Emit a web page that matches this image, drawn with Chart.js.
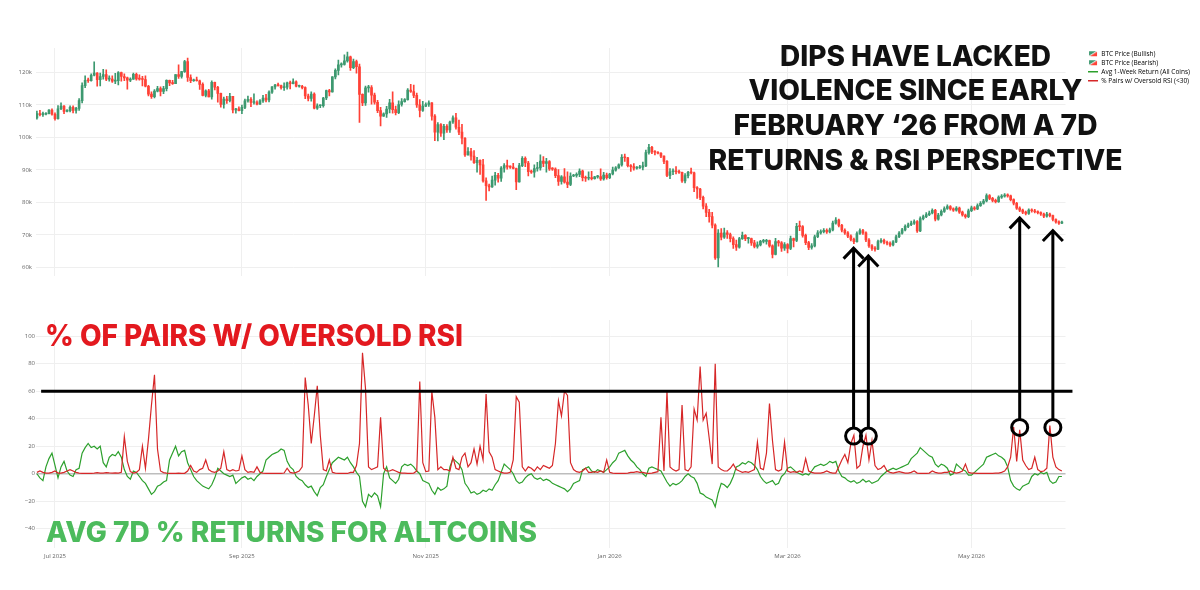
<!DOCTYPE html>
<html lang="en">
<head>
<meta charset="UTF-8">
<title>Dips have lacked violence</title>
<script src="https://cdn.jsdelivr.net/npm/chart.js"></script>
<style>
  html, body { margin: 0; padding: 0; background: #fff; }
  #wrap { position: relative; width: 1200px; height: 590px; overflow: hidden; }
  #chart { position: absolute; left: 0; top: 0; }
  #notes { position: absolute; left: 0; top: 0; pointer-events: none; }
  #notes text { font-family: Inter, 'Open Sans', sans-serif; font-weight: 800; }
</style>
</head>
<body>
<div id="wrap">
  <canvas id="chart" width="1200" height="590"></canvas>
  <svg id="notes" width="1200" height="590">
    <g fill="#111" font-size="28.5" text-anchor="middle">
      <text x="915.5" y="66" textLength="271" lengthAdjust="spacingAndGlyphs">DIPS HAVE LACKED</text>
      <text x="915.5" y="100" textLength="334" lengthAdjust="spacingAndGlyphs">VIOLENCE SINCE EARLY</text>
      <text x="915.5" y="135" textLength="364" lengthAdjust="spacingAndGlyphs">FEBRUARY ‘26 FROM A 7D</text>
      <text x="915.5" y="169.5" textLength="414" lengthAdjust="spacingAndGlyphs">RETURNS &amp; RSI PERSPECTIVE</text>
    </g>
    <text x="45" y="345.5" fill="#e3191f" font-size="29.5" textLength="418" lengthAdjust="spacingAndGlyphs">% OF PAIRS W/ OVERSOLD RSI</text>
    <text x="46" y="541.5" fill="#4cbb5c" font-size="28" textLength="491" lengthAdjust="spacingAndGlyphs">AVG 7D % RETURNS FOR ALTCOINS</text>
  </svg>
</div>
<script>
// daily BTC candles (thousands of USD), first day 2025-06-25; open = previous close
const startDate = '2025-06-25';
const firstOpen = 106.0;
const close = [
  107.3,107.0,107.1,107.3,108.4,107.1,105.7,108.8,109.6,108.0,
  108.2,109.2,108.3,108.9,111.3,115.9,117.5,117.4,119.1,119.8,
  117.7,118.7,119.3,117.9,117.9,117.3,117.4,119.9,118.7,118.3,
  117.6,117.9,119.4,118.0,117.9,117.8,115.7,113.3,112.5,114.2,
  115.0,114.1,115.0,117.5,116.7,116.5,119.3,118.7,120.2,123.3,
  118.4,117.4,117.5,117.4,116.3,112.9,114.3,112.4,116.9,115.4,
  113.5,110.1,111.8,111.3,112.6,108.4,108.8,108.2,109.2,111.2,
  111.7,110.7,110.7,110.2,111.2,112.1,111.5,113.9,115.5,116.1,
  115.9,115.3,115.4,116.8,116.5,117.1,115.7,115.7,115.3,112.7,
  112.0,113.3,109.0,109.7,109.7,112.1,114.4,114.0,118.6,120.6,
  122.3,122.4,123.5,124.8,121.4,123.3,121.7,113.2,110.6,115.2,
  115.3,113.0,110.8,108.2,106.5,107.2,108.7,110.6,108.5,107.6,
  110.1,111.0,111.6,114.5,114.1,112.9,110.0,108.3,109.6,110.1,
  110.6,106.5,101.6,103.9,101.3,103.4,102.3,104.7,106.0,103.1,
  101.6,99.7,94.6,95.6,94.2,92.2,92.9,91.5,86.6,85.1,
  84.7,86.8,88.3,87.4,90.5,91.3,90.9,90.8,90.4,86.3,
  91.3,93.5,92.1,89.4,89.3,90.4,90.6,92.7,92.0,92.5,
  90.3,90.2,88.2,86.4,87.8,86.2,85.5,88.1,88.3,88.6,
  89.6,87.6,87.4,87.6,87.3,87.8,87.9,87.2,88.4,87.6,
  88.7,89.9,90.6,91.5,93.8,93.7,91.3,91.0,90.5,90.6,
  90.8,91.2,95.3,96.9,95.5,95.4,95.1,94.2,92.6,88.3,
  89.4,89.5,89.4,89.2,86.6,88.2,89.2,89.1,84.5,84.1,
  81.5,78.8,76.9,75.6,73.0,62.9,70.5,69.3,70.6,70.1,
  68.8,67.0,66.2,68.8,69.8,68.8,68.8,67.5,66.4,66.9,
  68.0,68.0,68.2,66.6,64.0,67.9,67.5,65.9,67.0,65.8,
  68.8,68.3,72.6,72.5,69.8,67.6,66.1,66.6,69.4,70.6,
  71.0,71.4,70.9,71.5,73.6,74.5,72.9,71.4,70.6,69.6,
  68.6,67.9,70.4,71.3,70.6,68.4,66.6,65.8,65.6,67.9,
  68.3,67.7,67.4,66.9,67.8,69.4,70.5,71.5,72.6,73.1,
  73.6,74.1,71.2,75.0,75.6,76.2,76.7,77.5,74.8,76.1,
  77.2,78.1,78.7,78.0,77.6,78.2,77.0,76.1,75.6,77.4,
  78.3,78.0,79.0,79.7,80.4,82.1,81.2,80.6,80.2,81.6,
  81.9,82.2,82.0,80.8,79.7,78.2,77.6,77.0,76.6,77.6,
  77.4,77.1,76.8,76.4,75.7,76.4,75.9,74.7,74.0,73.6,73.8
];
const high = [
  108.1,108.3,107.8,107.6,108.5,108.8,107.5,109.8,110.6,109.8,
  108.5,109.7,109.7,109.2,111.9,116.8,118.9,118.2,119.5,123.2,
  119.9,119.8,120.9,120.8,118.9,118.9,119.7,120.2,120.1,119.5,
  118.5,118.3,119.8,119.8,119.2,118.8,118.9,116.0,114.0,114.7,
  115.7,115.5,115.7,117.7,117.6,117.5,119.3,122.3,120.3,123.7,
  124.4,119.2,117.9,118.5,117.6,116.8,114.6,114.8,117.4,117.0,
  115.7,113.6,112.4,112.6,113.5,112.6,108.9,109.4,109.9,111.8,
  112.7,112.2,113.4,111.2,111.6,112.9,113.2,114.3,115.6,116.3,
  116.7,116.1,116.8,117.0,117.3,118.0,117.4,116.1,116.0,115.5,
  113.3,114.0,113.7,110.3,110.0,112.3,114.5,114.8,118.7,121.1,
  123.8,122.9,125.4,126.2,125.0,124.1,123.8,122.5,113.4,115.8,
  116.0,115.9,113.6,111.4,109.2,107.5,109.5,111.7,114.0,109.6,
  111.2,111.9,111.9,115.0,116.3,116.1,113.6,111.6,111.1,110.6,
  111.2,110.7,107.0,104.5,104.2,104.0,103.9,105.0,106.6,107.4,
  105.3,104.0,99.9,96.8,96.6,95.9,93.8,93.1,93.2,87.5,
  85.6,88.1,89.2,88.9,91.0,91.9,93.0,91.2,92.0,90.5,
  92.0,94.1,94.0,92.6,89.9,91.5,92.3,94.6,94.1,93.5,
  92.8,90.7,90.6,90.1,88.2,90.4,89.4,89.1,88.6,89.1,
  90.3,89.9,88.1,89.4,89.5,88.0,88.3,90.3,89.2,89.0,
  88.9,90.8,91.0,91.8,94.7,94.8,93.8,91.6,91.9,91.0,
  91.4,92.4,96.1,97.8,97.2,95.9,95.6,95.3,94.3,92.8,
  90.4,90.3,91.0,89.9,89.3,88.8,89.5,90.5,89.3,84.8,
  84.3,81.9,79.6,77.8,76.9,73.4,71.6,71.9,72.1,71.3,
  70.5,69.4,68.4,69.2,70.8,70.1,69.2,69.0,68.3,67.8,
  68.3,68.6,68.6,68.4,66.9,68.9,68.3,67.9,67.6,67.3,
  69.6,69.0,73.5,74.2,72.8,70.2,68.0,67.3,69.9,71.3,
  71.5,71.9,71.8,72.1,74.2,75.3,74.8,73.2,71.8,71.0,
  70.0,69.0,70.9,71.8,71.7,70.9,68.8,67.0,66.4,68.4,
  68.8,68.7,68.1,67.8,68.2,69.9,71.0,72.0,73.1,73.6,
  74.2,74.6,74.4,75.5,76.1,76.8,77.3,78.0,77.8,76.6,
  77.7,78.6,79.2,79.0,78.3,78.7,78.5,77.3,76.4,77.9,
  78.8,78.7,79.5,80.2,80.9,82.6,82.4,81.5,81.0,82.0,
  82.4,82.7,82.6,82.2,81.1,80.0,78.6,77.9,77.3,78.0,
  78.0,77.8,77.4,77.1,76.7,76.9,76.7,76.1,74.9,74.3,74.2
];
const low = [
  105.6,106.6,106.4,106.9,107.2,106.8,105.3,105.6,108.5,107.3,
  107.8,107.8,107.5,107.4,108.3,110.6,115.3,116.9,117.3,118.9,
  115.7,115.8,117.9,117.4,117.3,116.9,116.5,116.1,117.3,117.4,
  114.8,117.1,117.8,117.6,117.6,115.8,115.5,112.7,112.0,112.1,
  114.0,112.7,113.4,114.3,115.9,116.3,116.5,118.1,118.2,120.0,
  117.2,116.8,117.2,117.3,114.7,112.7,112.4,112.4,111.7,114.6,
  110.8,109.3,109.0,110.4,110.9,107.5,107.4,108.1,107.3,108.8,
  110.8,109.4,110.2,110.0,110.1,110.7,110.9,110.9,113.5,114.8,
  115.7,114.8,114.4,114.8,114.9,116.4,115.5,115.4,114.9,111.9,
  111.2,111.1,108.7,108.6,109.1,109.3,111.6,112.7,113.9,118.0,
  119.2,121.6,122.2,123.1,120.6,121.1,119.7,104.6,109.7,109.8,
  113.9,110.2,110.2,107.6,103.5,106.4,106.1,107.5,107.4,106.9,
  107.3,109.6,110.8,111.4,113.8,112.2,109.2,106.3,108.0,109.4,
  109.5,105.3,99.0,98.9,100.3,99.3,101.5,101.5,104.3,102.5,
  100.8,98.0,94.1,94.5,93.0,92.0,89.3,88.6,86.2,80.6,
  83.5,84.6,85.3,86.2,86.4,89.3,90.2,90.4,90.3,83.9,
  86.2,91.0,91.0,88.1,88.9,87.7,89.6,89.9,91.0,89.3,
  89.8,89.8,87.6,85.2,85.6,85.9,84.5,85.1,87.9,87.7,
  87.9,86.6,86.4,86.9,86.9,87.1,87.4,86.7,86.8,87.1,
  87.3,88.4,89.6,90.4,91.1,92.6,90.9,89.5,89.9,90.2,
  90.4,90.0,91.0,94.8,95.0,94.6,94.9,93.7,91.9,87.9,
  87.3,88.5,88.7,88.9,86.1,86.0,87.5,88.7,83.3,81.2,
  80.8,78.0,75.6,73.9,72.1,62.4,60.1,68.4,68.9,68.9,
  67.8,65.8,65.2,65.9,68.6,68.2,67.4,66.7,66.0,65.9,
  66.6,67.5,67.1,66.2,62.9,63.8,66.5,64.9,65.2,64.4,
  65.4,66.3,67.9,71.3,69.3,67.0,65.4,65.6,66.3,69.1,
  70.2,70.6,70.4,70.6,71.2,73.3,72.4,70.9,70.1,69.1,
  68.1,67.3,67.7,70.1,70.1,67.9,66.1,65.2,65.0,65.4,
  67.5,67.2,66.9,66.4,66.6,67.6,69.1,70.2,71.2,72.2,
  72.8,73.2,70.7,71.0,74.6,75.3,75.9,76.4,74.3,74.5,
  75.8,76.9,77.8,77.6,77.2,77.3,76.6,75.7,75.1,75.3,
  77.1,77.6,77.7,78.7,79.4,80.1,80.8,80.1,79.8,80.0,
  81.2,81.6,81.6,80.4,79.2,77.8,77.1,76.5,76.1,76.3,
  77.0,76.7,76.4,76.0,75.3,75.4,75.5,74.3,73.6,73.2,73.4
];
// avg 1-week return of all coins (%), same days
const avgReturn = [
  0,-3,-5,5,11,15,6,-3,5,9,
  2,-1,-2,3,4,15,19,22,19,20,
  18,20,8,5,12,14,13,16,12,3,
  -2,-4,2,1,-2,-5,-7,-11,-15,-13,
  -9,-8,-6,-5,10,15,20,13,16,17,
  8,3,-2,-5,-7,-9,-10,-11,-8,-3,
  4,2,0,-1,-2,-1,-7,-5,-3,-2,
  -4,-3,-5,-2,0,2,10,12,14,15,
  16,18,17,9,5,3,-2,-4,-5,-8,
  -10,-9,-13,-16,-10,-8,-2,3,8,10,
  12,11,10,12,8,5,1,-2,-20,-24,
  -15,-17,-14,-16,-24,0,5,-3,-5,-7,
  -4,5,7,6,7,5,2,0,-5,-6,
  -7,-12,-15,-10,-12,-11,-9,5,11,9,
  7,3,-7,-10,-14,-13,-15,-14,-12,-13,
  -11,-12,-8,-5,1,7,5,3,0,-5,
  -7,-6,-3,-1,0,-3,-4,-3,-5,-4,
  -5,-7,-8,-9,-10,-11,-13,-11,-7,-6,
  -5,3,4,5,2,1,3,2,1,3,
  5,8,10,15,16,17,13,10,8,5,
  3,0,-2,4,5,4,3,2,-2,-6,
  -9,-7,-8,-7,-5,-2,0,-2,-3,-7,
  -14,-15,-17,-18,-19,-24,-14,-7,-8,-10,
  -7,-2,5,6,8,7,9,8,6,3,
  -2,-5,-7,-6,-5,-8,-7,-2,0,4,
  5,3,1,0,-1,0,-1,2,5,6,
  7,6,7,9,8,9,2,-2,-3,-5,
  -6,-5,-7,-6,-4,-6,-5,-7,-6,-5,
  -2,0,2,3,4,3,4,5,6,7,
  11,13,15,19,17,15,13,12,7,5,
  7,6,4,-1,0,7,5,3,2,-1,
  -1,1,3,5,7,12,13,14,15,13,
  12,10,5,-5,-9,-11,-12,-9,-8,-7,
  -2,0,-1,1,0,1,-5,-7,-6,-2,-2
];
// % of pairs with RSI < 30, same days
const oversold = [
  1,2,1,0.5,0.5,1,2,0.5,0.5,1,
  2,3,2,1,0.5,0.3,0.3,0.3,0.3,0.5,
  0.8,0.5,0.5,0.8,0.6,0.5,0.6,0.4,1,27,
  9,1.5,0.5,1,3,20,4,25,50,72,
  18,2,0.8,0.5,0.3,0.3,0.2,0.5,0.3,0.3,
  2,6,2,1,3,4,10,3,1.5,1,
  2,4,16,3,2,3,2,2.5,13,3,
  1,1.5,1,5,1,0.5,0.3,0.2,0.2,0.2,
  0.2,0.3,0.5,4,1,0.5,1,2,5,70,
  50,22,42,64,28,3,2,10,1,0.5,
  0.3,0.3,0.2,0.2,1,1,6,22,88,62,
  5,3,4,5,41,4,2,2,3,2,
  1,0.5,0.5,0.3,0.3,0.5,2,67,8,1.5,
  2,60,41,3,5,3,3,2,12,4,
  3,12,15,5,8,18,7,20,10,58,
  16,12,3,2,1,0.5,0.5,1,10,56,
  52,5,2,5,4,2,5,3,6,5,
  4,6,22,53,42,60,57,8,3,1.5,
  1,2,4,1,1,1.5,1,2,1,10,
  1,0.5,0.3,0.2,0.2,0.3,0.5,1,1,1.5,
  1,1,0.5,0.3,0.5,1,1.5,41,2,60,
  5,3,2,3,50,3,2,5,47,39,
  78,39,44,26,7,80,5,3,2,2,
  4,7,3,2,1,1.5,1,2,3,23,
  4,3,15,51,24,3,2,3,23,2,
  1,1.5,1,2,1,11,2,1,0.5,0.5,
  0.5,1,2,1,0.5,0.5,5,10,14,8,
  22,28,4,6,20,28,10,24,6,3,
  4,6,2,1,0.5,1,1.5,1,0.5,0.5,
  1,2,0.5,0.3,0.2,0.3,0.5,2,1,0.5,
  0.5,1,1,2,1,0.5,1,2,7,1,
  0.5,0.5,0.3,0.2,0.2,0.2,0.3,0.3,0.5,0.5,
  1,2,5,12,34,9,32,10,6,3,
  4,12,3,1.5,2,4,35,12,5,3,2
];
const priceTicks = [60, 70, 80, 90, 100, 110, 120];
const pctTicks = [-40, -20, 0, 20, 40, 60, 80, 100];
const monthLabels = ['Jul 2025', 'Sep 2025', 'Nov 2025', 'Jan 2026', 'Mar 2026', 'May 2026'];
const monthDates = ['2025-07-01', '2025-09-01', '2025-11-01', '2026-01-01', '2026-03-01', '2026-05-01'];

// annotation anchors (day index, price in k, oversold %)
const threshold = 60;
const thresholdFrom = 1.4, thresholdTo = 343.5;
const arrowDays = [270.9, 275.8, 326, 337];
const arrowTips = [65.9, 63.5, 75.2, 71.3];
const circleAt = [27.4, 27.4, 33.7, 33.7];

const UP = '#3d9970', DOWN = '#ff4136', GREEN = '#2ca02c', RED = '#d62728';
const GRID = '#efefef';

const dayOf = s => (Date.parse(s) - Date.parse(startDate)) / 864e5;
const monthDays = monthDates.map(dayOf);

const open = close.map((c, i) => i ? close[i - 1] : firstOpen);
const up = [], down = [];
close.forEach((c, i) => (c >= open[i] ? up : down).push(i));
const body = idx => idx.map(i => ({x: i, y: [open[i], close[i]]}));
const wick = idx => idx.map(i => ({x: i, y: [low[i], high[i]]}));
const series = arr => arr.map((v, i) => ({x: i, y: v}));

// small candle icon for the legend
const candleIcon = document.createElement('canvas');
candleIcon.width = 10; candleIcon.height = 7;
(function () {
  const c = candleIcon.getContext('2d');
  c.fillStyle = DOWN; c.fillRect(1, 1, 8, 5);
  c.fillStyle = UP;
  c.beginPath(); c.moveTo(1, 1); c.lineTo(9, 1); c.lineTo(1, 6); c.closePath(); c.fill();
  c.strokeStyle = '#fff'; c.lineWidth = 1;
  c.beginPath(); c.moveTo(1, 6); c.lineTo(9, 1); c.stroke();
})();

// blank the space between the two panels so the month lines stop there
const panelGap = {
  id: 'panelGap',
  beforeDatasetsDraw(chart) {
    const {ctx, chartArea, scales: {y, y2}} = chart;
    ctx.save();
    ctx.fillStyle = '#fff';
    ctx.fillRect(chartArea.left - 1, y.bottom + 1, chartArea.width + 2, y2.top - y.bottom - 2);
    ctx.restore();
  }
};

const annotate = {
  id: 'annotate',
  afterDatasetsDraw(chart) {
    const {ctx, scales: {x, y, y2}} = chart;
    ctx.save();
    ctx.strokeStyle = '#000';
    ctx.lineWidth = 3;
    ctx.beginPath();
    ctx.moveTo(x.getPixelForValue(thresholdFrom), y2.getPixelForValue(threshold));
    ctx.lineTo(x.getPixelForValue(thresholdTo), y2.getPixelForValue(threshold));
    ctx.stroke();
    const r = 8;
    arrowDays.forEach((d, i) => {
      const px = x.getPixelForValue(d);
      const tip = y.getPixelForValue(arrowTips[i]);
      const cy = y2.getPixelForValue(circleAt[i]);
      ctx.beginPath();
      ctx.moveTo(px, cy - r);
      ctx.lineTo(px, tip);
      ctx.moveTo(px - 10, tip + 10.5);
      ctx.lineTo(px, tip);
      ctx.lineTo(px + 10, tip + 10.5);
      ctx.stroke();
      ctx.beginPath();
      ctx.arc(px, cy, r, 0, Math.PI * 2);
      ctx.stroke();
    });
    ctx.restore();
  }
};

Chart.defaults.font.family = "'Open Sans', sans-serif";
Chart.defaults.color = '#666';

const hidden = {display: false};
new Chart(document.getElementById('chart'), {
  type: 'line',
  data: {
    datasets: [
      {type: 'line', label: '% Pairs w/ Oversold RSI (<30)', data: series(oversold), yAxisID: 'y2',
       borderColor: RED, borderWidth: 1.2, pointRadius: 0, order: 0},
      {type: 'line', label: 'Avg 1-Week Return (All Coins)', data: series(avgReturn), yAxisID: 'y2',
       borderColor: GREEN, borderWidth: 1.2, pointRadius: 0, order: 1},
      {type: 'bar', label: 'BTC Price (Bullish)', data: body(up), yAxisID: 'y',
       backgroundColor: UP, barThickness: 2, minBarLength: 1, grouped: false, order: 2},
      {type: 'bar', label: 'BTC Price (Bearish)', data: body(down), yAxisID: 'y',
       backgroundColor: DOWN, barThickness: 2, minBarLength: 1, grouped: false, order: 2},
      {type: 'bar', label: 'bull wick', data: wick(up), yAxisID: 'y',
       backgroundColor: UP, barThickness: 1, grouped: false, order: 3},
      {type: 'bar', label: 'bear wick', data: wick(down), yAxisID: 'y',
       backgroundColor: DOWN, barThickness: 1, grouped: false, order: 3}
    ]
  },
  options: {
    responsive: false,
    animation: false,
    layout: {padding: {top: 48, left: 0, right: 0, bottom: 28}},
    plugins: {
      tooltip: {enabled: false},
      legend: {
        position: 'right',
        align: 'start',
        onClick: () => {},
        labels: {
          usePointStyle: true,
          pointStyleWidth: 10,
          boxHeight: 6,
          padding: 2.5,
          color: '#444',
          font: {size: 6.5, lineHeight: 1},
          generateLabels: () => [
            {text: 'BTC Price (Bullish)', pointStyle: candleIcon, fillStyle: UP, strokeStyle: UP, lineWidth: 0, hidden: false},
            {text: 'BTC Price (Bearish)', pointStyle: candleIcon, fillStyle: DOWN, strokeStyle: DOWN, lineWidth: 0, hidden: false},
            {text: 'Avg 1-Week Return (All Coins)', pointStyle: 'line', fillStyle: GREEN, strokeStyle: GREEN, lineWidth: 1.5, hidden: false},
            {text: '% Pairs w/ Oversold RSI (<30)', pointStyle: 'line', fillStyle: RED, strokeStyle: RED, lineWidth: 1.5, hidden: false}
          ]
        }
      }
    },
    scales: {
      x: {
        type: 'linear',
        min: -0.3,
        max: 341.2,
        offset: false,
        afterBuildTicks: s => { s.ticks = monthDays.map(v => ({value: v})); },
        afterFit: s => { s.height = 14; },
        ticks: {callback: (v, i) => monthLabels[i], autoSkip: false, maxRotation: 0, padding: 5, font: {size: 6}},
        grid: {color: GRID, drawTicks: false, offset: false},
        border: hidden
      },
      y: {
        type: 'linear',
        position: 'left',
        stack: 'panels',
        stackWeight: 227,
        weight: 3,
        min: 57.63,
        max: 127.48,
        afterBuildTicks: s => { s.ticks = priceTicks.map(v => ({value: v})); },
        afterFit: s => { s.width = 36; },
        ticks: {callback: v => v + 'k', padding: 4, font: {size: 6}},
        grid: {color: GRID, drawTicks: false},
        border: hidden
      },
      gap: {
        type: 'linear',
        position: 'left',
        stack: 'panels',
        stackWeight: 46,
        weight: 2,
        ticks: hidden,
        grid: hidden,
        border: hidden
      },
      y2: {
        type: 'linear',
        position: 'left',
        stack: 'panels',
        stackWeight: 227,
        weight: 1,
        min: -54,
        max: 111.05,
        afterBuildTicks: s => { s.ticks = pctTicks.map(v => ({value: v})); },
        afterFit: s => { s.width = 36; },
        ticks: {callback: v => v < 0 ? '\u2212' + Math.abs(v) : String(v), padding: 1, font: {size: 6}},
        grid: {
          color: c => c.tick && c.tick.value === 0 ? '#bdbdbd' : GRID,
          lineWidth: c => c.tick && c.tick.value === 0 ? 1.5 : 1,
          drawTicks: false
        },
        border: hidden
      },
      yr: {
        type: 'linear',
        position: 'right',
        afterFit: s => { s.width = 20; },
        ticks: hidden,
        grid: hidden,
        border: hidden
      }
    }
  },
  plugins: [panelGap, annotate]
});
</script>
</body>
</html>
